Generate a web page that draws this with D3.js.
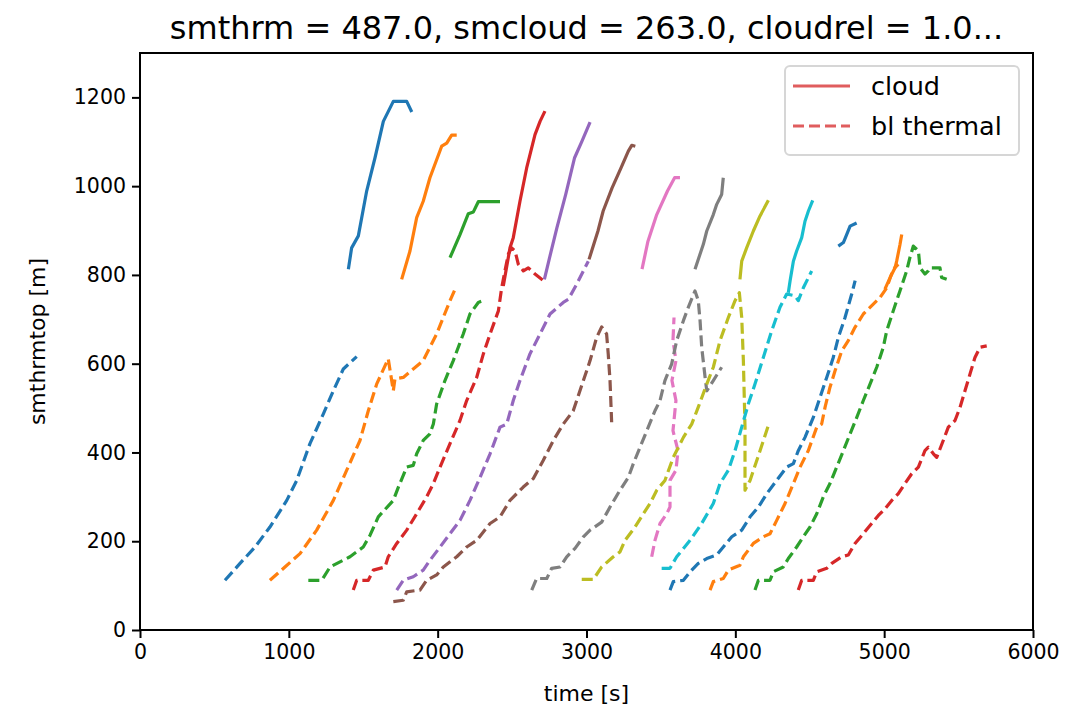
<!DOCTYPE html>
<html>
<head>
<meta charset="utf-8">
<script src="https://cdn.jsdelivr.net/npm/d3@7"></script>
<style>
  body { margin: 0; background: #fff; }
  svg text { font-family: "DejaVu Sans", sans-serif; fill: #000; }
</style>
</head>
<body>
<svg id="chart" width="1068" height="715"></svg>
<script>
// tick values
const xTicks = [0, 1000, 2000, 3000, 4000, 5000, 6000];
const yTicks = [0, 200, 400, 600, 800, 1000, 1200];

// matplotlib default colour cycle
const palette = ["#1f77b4", "#ff7f0e", "#2ca02c", "#d62728", "#9467bd",
                 "#8c564b", "#e377c2", "#7f7f7f", "#bcbd22", "#17becf"];

// bl thermal tops [time, height]
const thermal01 = [[571,112],[672,150],[773,187],[873,232],[986,292],[1053,337],[1142,420],[1232,487],[1299,539],[1366,588],[1456,616]];
const thermal02 = [[873,112],[974,142],[1075,172],[1187,225],[1299,292],[1389,360],[1478,427],[1534,494],[1590,554],[1668,611],[1702,539],[1713,566],[1769,569],[1836,588],[1903,607],[1993,667],[2083,742],[2117,768]];
const thermal03 = [[1131,112],[1221,112],[1277,142],[1411,165],[1500,187],[1545,213],[1601,255],[1702,292],[1736,322],[1792,367],[1836,371],[1859,397],[1903,427],[1948,442],[1971,464],[1993,509],[2049,562],[2105,607],[2172,667],[2217,712],[2273,738],[2305,742]];
const thermal04 = [[1433,90],[1456,112],[1534,112],[1568,135],[1646,142],[1668,165],[1725,195],[1792,225],[1859,262],[1926,300],[1971,330],[2016,367],[2083,420],[2150,472],[2195,517],[2262,569],[2307,622],[2352,667],[2408,719],[2430,771],[2452,809],[2475,847],[2497,861],[2520,854],[2542,824],[2576,809],[2609,816],[2654,802],[2710,787]];
const thermal05 = [[1725,90],[1769,112],[1836,120],[1903,135],[1948,157],[2016,187],[2083,217],[2150,247],[2217,292],[2285,344],[2352,397],[2419,457],[2464,464],[2508,517],[2553,562],[2620,622],[2688,667],[2755,712],[2844,738],[2878,745],[2934,779],[2979,809],[3012,831]];
const thermal06 = [[1702,64],[1769,67],[1792,86],[1881,90],[1926,112],[1993,124],[2038,142],[2128,165],[2195,187],[2262,202],[2352,240],[2419,255],[2486,292],[2575,322],[2642,341],[2709,382],[2777,427],[2844,464],[2911,494],[2979,562],[3024,607],[3068,659],[3102,683],[3135,667],[3146,622],[3158,562],[3169,468]];
const thermal07 = [[3438,165],[3460,202],[3494,240],[3539,262],[3561,277],[3561,337],[3601,360],[3615,404],[3581,449],[3601,517],[3574,562],[3601,607],[3581,652],[3588,704]];
const thermal08 = [[2632,90],[2665,116],[2733,116],[2766,139],[2822,142],[2867,165],[2923,184],[2979,210],[3024,225],[3102,243],[3158,277],[3225,315],[3281,344],[3315,375],[3360,412],[3415,457],[3460,494],[3494,517],[3527,562],[3572,599],[3606,652],[3651,697],[3684,727],[3729,764],[3751,742],[3763,697],[3774,637],[3797,569],[3808,539],[3852,562],[3908,592]];
const thermal09 = [[2968,114],[3046,114],[3102,142],[3180,165],[3225,176],[3259,202],[3326,232],[3382,262],[3427,285],[3472,315],[3527,337],[3583,389],[3651,434],[3707,464],[3751,502],[3808,554],[3852,592],[3897,652],[3953,704],[3998,742],[4027,760],[4043,704],[4054,607],[4065,457],[4065,315],[4099,337],[4166,404],[4222,461]];
const thermal10 = [[3505,139],[3561,139],[3606,165],[3696,202],[3774,240],[3852,285],[3897,330],[3953,360],[3998,404],[4043,457],[4087,509],[4132,554],[4188,614],[4244,674],[4300,727],[4345,757],[4401,753],[4423,742],[4457,771],[4513,809]];
const thermal11 = [[3561,90],[3583,109],[3651,112],[3696,131],[3751,150],[3808,161],[3875,169],[3919,187],[3976,210],[4043,225],[4099,255],[4155,277],[4211,307],[4278,337],[4345,367],[4390,375],[4423,404],[4468,434],[4524,479],[4569,524],[4614,569],[4658,614],[4692,659],[4737,704],[4782,757],[4805,787]];
const thermal12 = [[3830,90],[3852,109],[3919,116],[3953,135],[4031,146],[4054,165],[4121,195],[4188,210],[4233,217],[4278,247],[4334,285],[4390,330],[4435,367],[4490,404],[4547,457],[4580,464],[4603,502],[4636,547],[4670,584],[4715,629],[4759,652],[4804,682],[4860,712],[4927,734],[4972,749],[5017,771],[5061,813],[5095,824]];
const thermal13 = [[4132,90],[4155,112],[4233,112],[4255,131],[4322,142],[4356,161],[4412,187],[4457,210],[4502,232],[4547,262],[4591,300],[4636,330],[4681,367],[4726,404],[4771,442],[4816,479],[4860,517],[4905,554],[4950,592],[4994,637],[5017,674],[5061,719],[5106,764],[5151,809],[5173,839],[5196,865],[5230,854],[5241,816],[5274,802],[5296,809],[5308,816],[5375,816],[5386,794],[5420,790]];
const thermal14 = [[4423,90],[4446,112],[4524,112],[4547,131],[4614,139],[4648,150],[4715,165],[4759,169],[4804,195],[4860,217],[4916,240],[4961,258],[5006,273],[5051,292],[5095,307],[5140,330],[5185,352],[5230,367],[5274,404],[5297,412],[5331,397],[5353,389],[5397,427],[5431,457],[5476,472],[5510,502],[5543,539],[5577,577],[5610,614],[5644,637],[5689,640]];

// cloud tops [time, height]
const cloud01 = [[1400,813],[1422,861],[1467,888],[1523,989],[1579,1064],[1635,1146],[1702,1191],[1792,1191],[1826,1167]];
const cloud02 = [[1758,790],[1814,854],[1859,929],[1903,966],[1948,1019],[2027,1090],[2061,1097],[2094,1115],[2128,1115]];
const cloud03 = [[2083,839],[2150,891],[2206,938],[2240,942],[2273,965],[2419,965]];
const cloud04 = [[2441,775],[2486,861],[2508,884],[2553,966],[2598,1041],[2654,1116],[2688,1146],[2721,1169]];
const cloud05 = [[2717,790],[2752,839],[2801,906],[2860,981],[2920,1064],[2969,1101],[3024,1144]];
const cloud06 = [[3017,835],[3077,899],[3112,944],[3172,996],[3232,1041],[3281,1079],[3304,1092],[3328,1090]];
const cloud07 = [[3373,813],[3413,876],[3472,936],[3544,989],[3592,1019],[3628,1019]];
const cloud08 = [[3729,813],[3785,869],[3808,899],[3852,936],[3875,959],[3908,981],[3919,1019]];
const cloud09 = [[4031,790],[4043,831],[4076,861],[4121,899],[4166,933],[4222,968]];
const cloud10 = [[4356,760],[4368,787],[4390,831],[4412,854],[4446,884],[4468,921],[4491,944],[4520,968]];
const cloud11 = [[4692,865],[4726,873],[4748,891],[4771,910],[4815,917]];
const cloud12 = [[5005,768],[5040,794],[5073,816],[5084,831],[5106,868],[5118,891]];

const thermals = [thermal01, thermal02, thermal03, thermal04, thermal05, thermal06, thermal07,
                  thermal08, thermal09, thermal10, thermal11, thermal12, thermal13, thermal14];
const clouds = [cloud01, cloud02, cloud03, cloud04, cloud05, cloud06, cloud07,
                cloud08, cloud09, cloud10, cloud11, cloud12, null, null];

const title = "smthrm = 487.0, smcloud = 263.0, cloudrel = 1.0...";

// layout
const mLeft = 140, mRight = 1033, mTop = 53, mBottom = 630;

const svg = d3.select("#chart");

const x = d3.scaleLinear().domain([0, 6000]).range([mLeft, mRight]);
const y = d3.scaleLinear().domain([0, 1300]).range([mBottom, mTop]);

const line = d3.line()
    .x(d => x(d[0]))
    .y(d => y(d[1]));

const plot = svg.append("g");

thermals.forEach((t, i) => {
    const col = palette[i % palette.length];
    if (clouds[i]) {
        plot.append("path")
            .attr("d", line(clouds[i]))
            .attr("fill", "none")
            .attr("stroke", col)
            .attr("stroke-width", 3.2)
            .attr("stroke-linejoin", "round");
    }
    plot.append("path")
        .attr("d", line(t))
        .attr("fill", "none")
        .attr("stroke", col)
        .attr("stroke-width", 3.2)
        .attr("stroke-dasharray", "11,5")
        .attr("stroke-linejoin", "round");
});

// axes
const xAxis = svg.append("g")
    .attr("transform", `translate(0,${mBottom})`)
    .call(d3.axisBottom(x).tickValues(xTicks).tickSize(8).tickPadding(6).tickFormat(d3.format("d")));
const yAxis = svg.append("g")
    .attr("transform", `translate(${mLeft},0)`)
    .call(d3.axisLeft(y).tickValues(yTicks).tickSize(8).tickPadding(6).tickFormat(d3.format("d")));

[xAxis, yAxis].forEach(a => {
    a.select(".domain").remove();
    a.selectAll(".tick line").attr("stroke", "#000").attr("stroke-width", 2);
    a.selectAll(".tick text").style("font-size", "20.5px").style("font-family", "DejaVu Sans");
});

// frame
svg.append("rect")
    .attr("x", mLeft).attr("y", mTop)
    .attr("width", mRight - mLeft).attr("height", mBottom - mTop)
    .attr("fill", "none").attr("stroke", "#000").attr("stroke-width", 2);

// labels
svg.append("text")
    .attr("x", (mLeft + mRight) / 2).attr("y", 39)
    .attr("text-anchor", "middle")
    .style("font-size", "32px")
    .text(title);

svg.append("text")
    .attr("x", (mLeft + mRight) / 2).attr("y", 701)
    .attr("text-anchor", "middle")
    .style("font-size", "22px")
    .text("time [s]");

svg.append("text")
    .attr("transform", `translate(45,${(mTop + mBottom) / 2}) rotate(-90)`)
    .attr("text-anchor", "middle")
    .style("font-size", "22px")
    .text("smthrmtop [m]");

// legend
const lg = svg.append("g");
lg.append("rect")
    .attr("x", 785).attr("y", 66).attr("width", 234).attr("height", 89)
    .attr("rx", 5)
    .attr("fill", "#fff").attr("fill-opacity", 0.8)
    .attr("stroke", "#d6d6d6").attr("stroke-width", 2);

const legendItems = [
    { label: "cloud", dash: null, y: 86 },
    { label: "bl thermal", dash: "11,5", y: 126 }
];
legendItems.forEach(item => {
    lg.append("line")
        .attr("x1", 793).attr("x2", 850)
        .attr("y1", item.y).attr("y2", item.y)
        .attr("stroke", palette[3]).attr("stroke-opacity", 0.75)
        .attr("stroke-width", 3.2)
        .attr("stroke-dasharray", item.dash);
    lg.append("text")
        .attr("x", 871).attr("y", item.y + 9)
        .style("font-size", "25.5px")
        .text(item.label);
});
</script>
</body>
</html>
